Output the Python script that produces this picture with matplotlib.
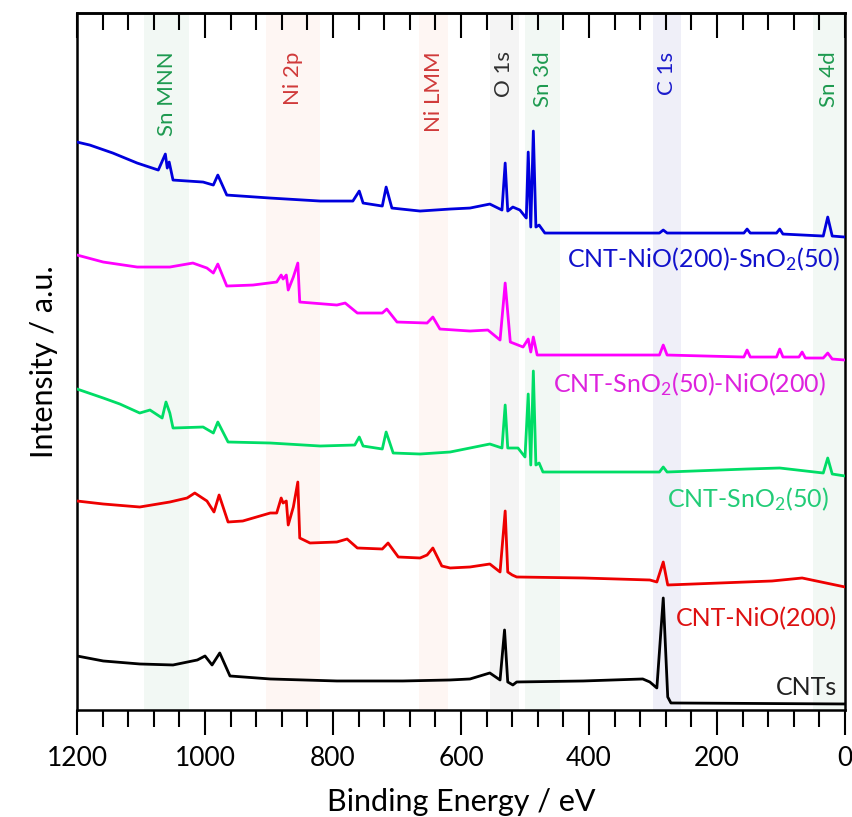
import matplotlib
matplotlib.use('Agg')
from matplotlib import pyplot as plt
from matplotlib.ticker import MultipleLocator

plt.rcParams['font.family'] = ['Lato', 'DejaVu Sans']
plt.rcParams['mathtext.fontset'] = 'custom'
plt.rcParams['mathtext.rm'] = 'Lato'
plt.rcParams['mathtext.it'] = 'Lato'

# binding energy (eV) / intensity (a.u., already offset)
cnt_be = [1200, 1159, 1102, 1050, 1012, 1000, 989, 977, 961, 898, 794, 691, 617, 586,
          555, 539, 532, 527, 519, 513, 409, 316, 305, 294, 284, 277, 272, 0]
cnt_int = [54, 49, 46, 45, 50, 54, 45, 57, 34, 31, 29, 29, 30, 31,
           37, 30, 80, 28, 25, 28, 29, 31, 28, 22, 112, 13, 7, 6]

nio_be = [1200, 1159, 1102, 1055, 1028, 1016, 997, 986, 978, 964, 941, 898, 888, 881,
          878, 873, 870, 862, 855, 852, 836, 794, 778, 762, 723, 714, 698, 664, 653,
          644, 630, 617, 586, 555, 539, 531, 527, 520, 513, 409, 305, 294, 284, 277,
          114, 67, 0]
nio_int = [209, 206, 203, 208, 212, 217, 209, 198, 215, 188, 189, 197, 197, 212,
           207, 209, 185, 203, 228, 172, 167, 168, 171, 162, 161, 167, 153, 152, 155,
           162, 144, 142, 143, 146, 138, 199, 138, 135, 133, 132, 130, 128, 148, 125,
           129, 132, 123]

sno2_be = [1200, 1159, 1133, 1102, 1086, 1067, 1061, 1055, 1050, 1003, 987, 980, 964,
           898, 820, 766, 759, 753, 723, 717, 706, 664, 617, 586, 555, 536, 531, 527,
           511, 500, 495, 491, 487, 483, 478, 472, 290, 284, 278, 153, 102, 34, 27, 20, 0]
sno2_int = [321, 312, 306, 297, 300, 292, 308, 297, 282, 283, 277, 288, 268,
            267, 264, 265, 273, 264, 261, 278, 257, 256, 258, 262, 266, 262, 305, 262,
            262, 253, 316, 245, 339, 245, 247, 238, 238, 243, 238, 241, 242, 237, 252, 236, 234]

sno2_nio_be = [1200, 1159, 1106, 1055, 1019, 997, 987, 980, 966, 925, 888, 881, 878,
               873, 870, 862, 855, 852, 794, 781, 762, 723, 716, 700, 653, 644, 633,
               586, 558, 539, 531, 523, 503, 495, 491, 487, 481, 290, 284, 278, 158,
               153, 148, 107, 102, 97, 72, 67, 62, 34, 27, 20, 0]
sno2_nio_int = [455, 448, 443, 443, 447, 442, 437, 446, 424, 425, 428, 435, 431,
                435, 420, 433, 447, 408, 405, 407, 397, 397, 401, 388, 387, 393, 381,
                379, 380, 370, 427, 368, 363, 371, 358, 373, 355, 355, 365, 355, 353,
                360, 353, 353, 361, 353, 353, 358, 352, 352, 357, 351, 350]

nio_sno2_be = [1200, 1180, 1144, 1106, 1073, 1062, 1059, 1056, 1050, 1003, 987, 980,
               966, 898, 820, 769, 759, 753, 723, 717, 708, 664, 617, 586, 555, 536,
               531, 527, 519, 508, 498, 495, 491, 487, 483, 478, 469, 290, 284, 278,
               158, 153, 148, 107, 102, 97, 34, 27, 20, 0]
nio_sno2_int = [568, 565, 557, 547, 540, 556, 542, 548, 530, 528, 525, 535,
                515, 512, 509, 509, 519, 507, 504, 523, 502, 499, 501, 502, 506, 500,
                547, 499, 503, 500, 492, 558, 483, 579, 483, 485, 477, 477, 480, 477,
                477, 481, 477, 477, 481, 476, 474, 493, 474, 473]

series_names = ['CNTs', 'CNT-NiO(200)', r'CNT-SnO$_2$(50)',
                r'CNT-SnO$_2$(50)-NiO(200)', r'CNT-NiO(200)-SnO$_2$(50)']
line_colors = ['#000000', '#ee0000', '#00dd66', '#ff00ff', '#0000dd']
text_colors = ['#222222', '#dd1111', '#22cc77', '#dd22dd', '#1111cc']
label_be = [12, 12, 25, 30, 8]
label_int = [15, 84, 203, 318, 443]

# peak regions: name, start, end (eV)
band_names = ['Sn MNN', 'Ni 2p', 'Ni LMM', 'O 1s', 'Sn 3d', 'C 1s', 'Sn 4d']
band_lo = [1025, 820, 620, 510, 445, 257, 0]
band_hi = [1095, 905, 665, 555, 500, 300, 50]
band_fill = ['#f2f8f4', '#fef6f3', '#fef6f3', '#f4f4f4', '#f2f8f4', '#efeff8', '#f2f8f4']
band_text = ['#1e9a50', '#d03a3a', '#d03a3a', '#303030', '#1e9a50', '#1a1acc', '#1e9a50']

fig = plt.figure(figsize=(8.52, 8.17), dpi=100)
ax = fig.add_axes([0.0904, 0.131, 0.9014, 0.853])

for lo, hi, c in zip(band_lo, band_hi, band_fill):
    ax.axvspan(lo, hi, color=c, lw=0, zorder=0)
for lo, hi, name, c in zip(band_lo, band_hi, band_names, band_text):
    ax.text((lo + hi) / 2, 0.945, name, transform=ax.get_xaxis_transform(),
            rotation=90, ha='center', va='top', fontsize=16, color=c)

spectra = [(cnt_be, cnt_int), (nio_be, nio_int), (sno2_be, sno2_int),
           (sno2_nio_be, sno2_nio_int), (nio_sno2_be, nio_sno2_int)]
for (be, inten), lc in zip(spectra, line_colors):
    ax.plot(be, inten, color=lc, lw=2.0, zorder=3)

for name, x, y, c in zip(series_names, label_be, label_int, text_colors):
    ax.text(x, y, name, ha='right', va='baseline', fontsize=18, color=c, zorder=4)

ax.set_xlim(1200, 0)
ax.set_ylim(0, 697)
ax.xaxis.set_major_locator(MultipleLocator(200))
ax.xaxis.set_minor_locator(MultipleLocator(40))
ax.tick_params(axis='x', which='major', direction='out', length=18, width=1.5, labelsize=19, pad=8)
ax.tick_params(axis='x', which='minor', direction='out', length=12, width=1.5)
ax.set_yticks([])
for s in ax.spines.values():
    s.set_linewidth(1.8)

top = ax.secondary_xaxis('top')
top.xaxis.set_major_locator(MultipleLocator(200))
top.xaxis.set_minor_locator(MultipleLocator(40))
top.tick_params(axis='x', which='major', direction='in', length=18, width=1.5, labeltop=False)
top.tick_params(axis='x', which='minor', direction='in', length=12, width=1.5)
top.spines['top'].set_linewidth(1.8)

ax.set_xlabel('Binding Energy / eV', fontsize=22, labelpad=12)
ax.set_ylabel('Intensity / a.u.', fontsize=22, labelpad=14)

fig.savefig('out.png', dpi=100)
